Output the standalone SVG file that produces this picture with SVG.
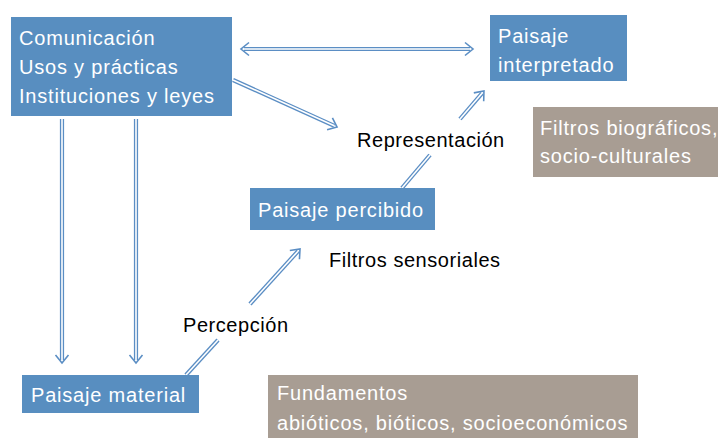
<svg xmlns="http://www.w3.org/2000/svg" width="718" height="438" viewBox="0 0 718 438">
<defs>
<style>
.blue{fill:#588EC0}
.tan{fill:#A89D93}
.wt{fill:#FFFFFF;font-family:"Liberation Sans",Arial,sans-serif;font-size:20px;letter-spacing:0.8px}
.bt{fill:#000000;font-family:"Liberation Sans",Arial,sans-serif;font-size:20px;letter-spacing:0.55px}
.ln{fill:none;stroke:#5B8EC4;stroke-width:4.2}
.in{fill:none;stroke:#FFFFFF;stroke-width:1.6}
</style>
<marker id="ah" markerUnits="userSpaceOnUse" markerWidth="20" markerHeight="20" refX="0" refY="0" viewBox="-10 -10 20 20" orient="auto-start-reverse">
<path d="M-5,-6.5 L3,0 L-5,6.5" fill="none" stroke="#5B8EC4" stroke-width="1.6"/>
</marker>
</defs>
<rect width="718" height="438" fill="#FFFFFF"/>
<g id="connectors">
<path class="ln" d="M244,49 L470,49" marker-start="url(#ah)" marker-end="url(#ah)"/>
<path class="in" d="M244,49 L470,49"/>
<path class="ln" d="M233,80 L334.3,125.8" marker-end="url(#ah)"/>
<path class="in" d="M233,80 L334.3,125.8"/>
<path class="ln" d="M62,119 L62,360" marker-end="url(#ah)"/>
<path class="in" d="M62,119 L62,360"/>
<path class="ln" d="M136,119 L136,360" marker-end="url(#ah)"/>
<path class="in" d="M136,119 L136,360"/>
<path class="ln" d="M186,375 L218,340"/>
<path class="in" d="M186,375 L218,340"/>
<path class="ln" d="M250,304 L298,251.2" marker-end="url(#ah)"/>
<path class="in" d="M250,304 L298,251.2"/>
<path class="ln" d="M402,188 L430,155"/>
<path class="in" d="M402,188 L430,155"/>
<path class="ln" d="M460,119 L482,93.3" marker-end="url(#ah)"/>
<path class="in" d="M460,119 L482,93.3"/>
</g>
<g id="n1">
<rect class="blue" x="11" y="17" width="221" height="99"/>
<text class="wt" x="19" y="45">Comunicación</text>
<text class="wt" x="19" y="74">Usos y prácticas</text>
<text class="wt" x="19" y="103">Instituciones y leyes</text>
</g>
<g id="n2">
<rect class="blue" x="490" y="15" width="137" height="66"/>
<text class="wt" x="498" y="43">Paisaje</text>
<text class="wt" x="498" y="72">interpretado</text>
</g>
<g id="n3">
<rect class="tan" x="533" y="107" width="185" height="70"/>
<text class="wt" x="540" y="135">Filtros biográficos,</text>
<text class="wt" x="540" y="163">socio-culturales</text>
</g>
<g id="n4">
<rect class="blue" x="250" y="188" width="185" height="42"/>
<text class="wt" x="258" y="217">Paisaje percibido</text>
</g>
<g id="n5">
<rect class="blue" x="22" y="375" width="177" height="38"/>
<text class="wt" x="31" y="402">Paisaje material</text>
</g>
<g id="n6">
<rect class="tan" x="268" y="375" width="370" height="63"/>
<text class="wt" x="277" y="400">Fundamentos</text>
<text class="wt" x="277" y="430">abióticos, bióticos, socioeconómicos</text>
</g>
<g id="labels">
<text class="bt" x="357" y="147">Representación</text>
<text class="bt" x="329" y="267">Filtros sensoriales</text>
<text class="bt" x="183" y="332">Percepción</text>
</g>
</svg>
